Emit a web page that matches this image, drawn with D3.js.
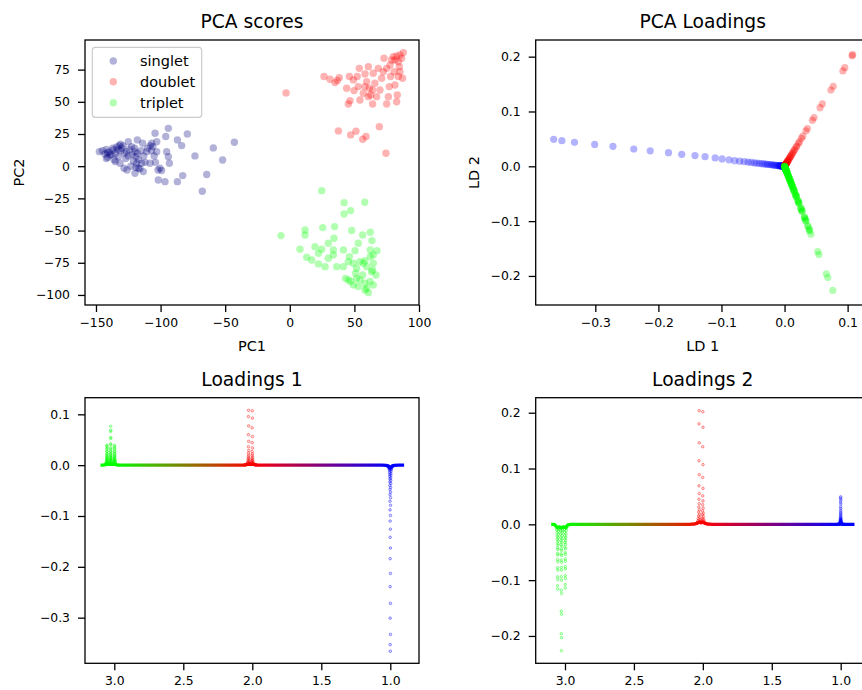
<!DOCTYPE html>
<html><head><meta charset="utf-8">
<script src="https://cdn.jsdelivr.net/npm/d3@7"></script>
<style>
body{margin:0;background:#fff;}
text{font-family:"DejaVu Sans",sans-serif;fill:#000;}
</style></head>
<body>
<svg id="chart" width="862" height="690"></svg>
<script>
// ---------------- DATA ----------------
const classNames = ["singlet", "doublet", "triplet"];

// PCA scores [PC1, PC2]
const scoreSinglet = [
[-147.4,11.3],[-143,9.5],[-141,10.5],[-142,6],[-139,8.7],[-136.6,12.6],[-134,15],[-131,17],[-129,15.7],[-132.7,7.4],
[-131.4,2.3],[-128.3,-1.6],[-135,3.6],[-125,19],[-126.3,11.3],[-122.4,15.2],[-119.8,11.3],[-118,20.4],[-119,7.4],[-118.5,2.3],
[-119.8,-5.5],[-117.2,-1.6],[-114.7,2.3],[-113.9,17.8],[-113.4,-4.2],[-110.8,11.3],[-108.2,2.3],[-106.9,17.8],[-106,15.2],[-104.3,25.6],
[-103,11.3],[-100.5,-1.6],[-99.2,-3.4],[-101.8,-10.7],[-96,23],[-94,29.4],[-95.3,11.3],[-94,7.4],[-93.2,2.3],[-96.6,-12],
[-87,20.4],[-83.7,16],[-79.3,25],[-82.9,-7.3],[-87,-12],[-73.4,8],[-67.7,-19.5],[-64.3,-6.5],[-59.2,14.2],[-52,4.8],[-42.9,18.6],
[-145,12],[-142,13],[-140,11],[-138,9],[-137,14],[-135,10],[-133,13],[-132,16],[-131,12],[-130,14],[-128,10],[-127,6],[-125,8],
[-124,13],[-122,9],[-121,4],[-120,14],[-118,10],[-117,5],[-116,-2],[-115,12],[-113,8],[-112,3],[-110,14],[-108,16],[-107,12],
[-105,8],[-104,3],[-103,19],[-102,-3],[-126,-3],[-123,0],[-119,-1],[-141,7],[-136,5]
];
const scoreDoublet = [
[-2.9,56.9],[26.5,69.6],[31.1,67.5],[35,64.9],[36.8,66.5],[38.3,68.8],[37.6,27.4],[45.3,48.3],[46.6,50.9],[47.1,24.3],
[46.1,69.6],[49.2,67],[51.2,27.1],[49.7,58.7],[53,61.8],[53.8,76],[54.3,51.4],[56.9,56.6],[59,23],[56.4,20.9],
[58.2,71.6],[60.8,77.3],[59.5,65.7],[61.5,60.5],[62.6,55.3],[64.1,48.3],[64.6,72.2],[65.9,64.4],[68.5,76],[69.3,30.7],
[69.8,59.2],[71.1,68.3],[72.9,83.8],[74.4,10],[75,48.3],[76.3,54],[77,61.8],[77.6,78.6],[78,69.6],[80.1,85.1],
[81.4,63.1],[82.7,50.1],[83.2,55.3],[84,69.6],[84.8,77.3],[85.3,86.4],[86.6,83.8],[87.9,88.2],[87.3,68.3],[84,81.2],
[81.4,82.5],[82.7,85.6],[78.8,82.5],[60.8,54],[64.1,59.2],[44,60.5],[52.2,69.6],[58.2,61.8],[67.2,54],[72.4,73.4],
[75,76],[80.7,73.4],[85.3,73.4]
];
const scoreTriplet = [
[-6.8,-53.9],[24.7,-19],[42,-28.3],[47.1,-34.5],[42,-37.1],[58,-28],[11.8,-49.5],[11.8,-53.4],[25.5,-47.7],[34.7,-46.9],
[47.9,-50],[62.3,-51.3],[56.4,-53.4],[53,-59.9],[63.6,-57.8],[7.9,-64.5],[19.5,-62.5],[29.8,-59.9],[34.2,-56],[24.7,-64.5],
[33.7,-65],[41.5,-65],[50.5,-65.6],[62.3,-65],[67.5,-65.6],[13.1,-70.7],[17,-72.8],[22.2,-75.9],[27.3,-78],[29.8,-71.5],
[36.3,-78],[41.5,-78],[46.1,-70.2],[49.2,-75.4],[54.3,-74.1],[58.2,-73.4],[62.3,-70.2],[64.6,-68.9],[45.3,-74.1],[51.7,-79.3],
[59.5,-78],[63.3,-81.9],[66.7,-84.5],[43.1,-87.1],[47.1,-89.6],[50.9,-83.2],[54.3,-88.3],[58.2,-90.9],[62,-89.6],[59.5,-94.8],
[58.2,-96.1],[60.8,-98.2],[53,-93.5],[49.2,-92.2],[45.3,-88.3],[64.6,-75.4],[56.9,-75.4],[51.7,-87.1],[56.4,-84.5],[64.6,-92.2],
[64.1,-80.6],[33.7,-68.9],[22.2,-67.6]
];

// Spectral loadings samples: [ppm, loading1, loading2]
const singletPeak = [
[1.000,-0.366,0.0492],[1.001,-0.353,0.0468],[0.999,-0.333,0.0438],[1.001,-0.301,0.0400],[0.999,-0.272,0.0365],
[1.001,-0.239,0.0316],[0.999,-0.213,0.0282],[1.001,-0.184,0.0249],[0.999,-0.163,0.0219],[1.001,-0.142,0.0195],
[0.999,-0.126,0.0176],[1.001,-0.110,0.0152],[0.999,-0.099,0.0134],[1.002,-0.088,0.0116],[0.998,-0.079,0.0103],
[1.002,-0.071,0.0094],[0.998,-0.064,0.0085],[1.002,-0.058,0.0077],[0.998,-0.053,0.0070],[1.002,-0.048,0.0064],
[0.998,-0.044,0.0058],[1.003,-0.040,0.0053],[0.997,-0.036,0.0048],[1.003,-0.033,0.0044],[0.997,-0.030,0.0040],
[1.003,-0.027,0.0036],[0.997,-0.025,0.0033],[1.004,-0.022,0.0029],[0.996,-0.020,0.0027],[1.004,-0.018,0.0024],
[0.996,-0.016,0.0021],[1.005,-0.014,0.0019],[0.995,-0.012,0.0016],[1.006,-0.010,0.0013],[0.994,-0.009,0.0012],
[1.007,-0.008,0.0011],[0.993,-0.007,0.0009],[1.009,-0.006,0.0008],[0.991,-0.005,0.0007],[1.011,-0.004,0.0005],
[0.989,-0.0035,0.0005],[1.014,-0.003,0.0004],[0.986,-0.0025,0.0003],[1.018,-0.002,0.0003],[0.982,-0.0016,0.0002],
[1.024,-0.0012,0.0002],[0.976,-0.0010,0.0001]
];
const doubletPeak = [
[2.027,0.1080,0.2036],[2.000,0.1070,0.2018],[2.028,0.0955,0.1800],[1.999,0.0925,0.1740],[2.026,0.0772,0.1460],
[2.001,0.0735,0.1390],[2.028,0.0600,0.1140],[1.999,0.0563,0.1070],[2.026,0.0468,0.0890],[2.001,0.0442,0.0840],
[2.028,0.0363,0.0690],[1.999,0.0339,0.0645],[2.026,0.0290,0.0550],[2.001,0.0268,0.0510],[2.028,0.0237,0.0450],
[1.999,0.0221,0.0420],[2.026,0.0195,0.0370],[2.001,0.0184,0.0350],[2.029,0.0163,0.0310],[1.998,0.0153,0.0290],
[2.025,0.0137,0.0260],[2.002,0.0126,0.0240],[2.030,0.0116,0.0220],[1.997,0.0105,0.0200],[2.024,0.0095,0.0180],
[2.003,0.0090,0.0170],[2.031,0.0079,0.0150],[1.996,0.0074,0.0140],[2.023,0.0063,0.0120],[2.004,0.0058,0.0110],
[2.033,0.0053,0.0100],[1.994,0.0047,0.0090],[2.021,0.0042,0.0080],[2.006,0.0040,0.0075],[2.035,0.0034,0.0065],
[1.992,0.0032,0.0060],[2.019,0.0026,0.0050],[2.008,0.0024,0.0045],[2.038,0.0021,0.0040],[1.989,0.0018,0.0035],
[2.016,0.0016,0.0030],[2.011,0.0014,0.0027],[2.042,0.0012,0.0023],[1.985,0.0011,0.0020],[2.048,0.0009,0.0017],
[1.979,0.0008,0.0015],[2.056,0.0006,0.0012],[1.971,0.0005,0.0010]
];
const tripletPeak = [
[3.026,0.0765,-0.2265],[3.025,0.0686,-0.2030],[3.027,0.0662,-0.1960],[3.025,0.0544,-0.1610],[3.027,0.0526,-0.1555],
[3.025,0.0419,-0.1240],[3.027,0.0399,-0.1180],[3.025,0.0338,-0.1000],[3.027,0.0318,-0.0940],[3.025,0.0277,-0.0820],
[3.027,0.0260,-0.0770],[3.024,0.0230,-0.0680],[3.028,0.0216,-0.0640],[3.024,0.0189,-0.0560],[3.028,0.0179,-0.0530],
[3.024,0.0159,-0.0470],[3.028,0.0149,-0.0440],[3.023,0.0132,-0.0390],[3.029,0.0122,-0.0360],[3.023,0.0108,-0.0320],
[3.029,0.0098,-0.0290],[3.022,0.0088,-0.0260],[3.030,0.0078,-0.0230],[3.021,0.0068,-0.0200],[3.031,0.0057,-0.0170],
[3.020,0.0047,-0.0140],[3.032,0.0041,-0.0120],[3.019,0.0034,-0.0100],[3.033,0.0027,-0.0080],
[3.053,0.0394,-0.1160],[3.054,0.0374,-0.1100],[3.052,0.0337,-0.0990],[3.054,0.0320,-0.0940],[3.052,0.0279,-0.0820],
[3.054,0.0265,-0.0780],[3.052,0.0228,-0.0670],[3.054,0.0214,-0.0630],[3.052,0.0187,-0.0550],[3.054,0.0177,-0.0520],
[3.051,0.0153,-0.0450],[3.055,0.0143,-0.0420],[3.051,0.0126,-0.0370],[3.055,0.0116,-0.0340],[3.050,0.0102,-0.0300],
[3.056,0.0092,-0.0270],[3.050,0.0082,-0.0240],[3.057,0.0071,-0.0210],[3.049,0.0061,-0.0180],[3.058,0.0051,-0.0150],
[3.048,0.0041,-0.0120],[3.060,0.0034,-0.0100],[3.047,0.0027,-0.0080],[3.063,0.0020,-0.0060],
[2.998,0.0388,-0.1140],[2.999,0.0367,-0.1080],[2.997,0.0330,-0.0970],[2.999,0.0313,-0.0920],[2.997,0.0272,-0.0800],
[2.999,0.0258,-0.0760],[2.997,0.0224,-0.0660],[2.999,0.0211,-0.0620],[2.997,0.0184,-0.0540],[2.999,0.0173,-0.0510],
[2.996,0.0150,-0.0440],[3.000,0.0139,-0.0410],[2.996,0.0122,-0.0360],[3.000,0.0112,-0.0330],[2.995,0.0099,-0.0290],
[3.001,0.0088,-0.0260],[2.994,0.0078,-0.0230],[3.002,0.0068,-0.0200],[2.993,0.0058,-0.0170],[3.003,0.0048,-0.0140],
[2.991,0.0037,-0.0110],[3.004,0.0031,-0.0090],[2.989,0.0024,-0.0070],[2.986,0.0017,-0.0050]
];
const baseline = [
[3.100,0.0000,0.0000],[3.080,0.0000,0.0000],[3.072,0.0004,-0.0012],[3.066,0.0010,-0.0030],[3.060,0.0016,-0.0048],
[3.053,0.0020,-0.0060],[3.046,0.0016,-0.0050],[3.040,0.0015,-0.0046],[3.033,0.0017,-0.0052],[3.026,0.0022,-0.0066],
[3.019,0.0017,-0.0052],[3.012,0.0015,-0.0046],[3.005,0.0017,-0.0050],[2.998,0.0020,-0.0060],[2.991,0.0014,-0.0042],
[2.984,0.0007,-0.0020],[2.976,0.0003,-0.0008],[2.960,0.0001,-0.0002],[2.900,0.0000,0.0000],[2.500,0.0000,0.0000],
[2.100,0.0000,0.0000],[2.060,0.0003,0.0006],[2.045,0.0008,0.0015],[2.035,0.0014,0.0027],[2.027,0.0020,0.0038],
[2.014,0.0016,0.0030],[2.000,0.0020,0.0038],[1.992,0.0014,0.0027],[1.982,0.0008,0.0015],[1.967,0.0003,0.0006],
[1.930,0.0000,0.0000],[1.500,0.0000,0.0000],[1.060,0.0000,0.0000],[1.030,-0.0004,0.0001],[1.015,-0.0012,0.0002],
[1.007,-0.0030,0.0004],[1.000,-0.0060,0.0008],[0.993,-0.0030,0.0004],[0.985,-0.0012,0.0002],[0.970,-0.0004,0.0001],
[0.940,0.0000,0.0000],[0.900,0.0000,0.0000]
];

// tick labels
const scoreXTicks = [-150, -100, -50, 0, 50, 100];
const scoreYTicks = [75, 50, 25, 0, -25, -50, -75, -100];
const ldXTicks = [-0.3, -0.2, -0.1, 0.0, 0.1];
const ldYTicks = [-0.2, -0.1, 0.0, 0.1, 0.2];
const ppmTicks = [3.0, 2.5, 2.0, 1.5, 1.0];
const load1Ticks = [0.1, 0.0, -0.1, -0.2, -0.3];
const load2Ticks = [0.2, 0.1, 0.0, -0.1, -0.2];

// ---------------- DRAWING ----------------
const svg = d3.select("#chart");
const classColors = ["#000080", "#ff0000", "#00ff00"];
const ppmColor = d3.scaleLinear().domain([3, 2, 1]).range(["#00ff00", "#ff0000", "#0000ff"]).clamp(true);
const TICK = 12.4, LABEL = 14.5, TITLE = 18.7;

function frame(x, y, xt, yt, fmt, title, xl, yl, labelX) {
  const [x0, x1] = x.range(), [y1, y0] = y.range();
  const g = svg.append("g");
  const ax = g.append("g").attr("transform", `translate(0,${y1})`)
    .call(d3.axisBottom(x).tickValues(xt).tickFormat(fmt).tickSize(7).tickPadding(6).tickSizeOuter(0));
  const ay = g.append("g").attr("transform", `translate(${x0},0)`)
    .call(d3.axisLeft(y).tickValues(yt).tickFormat(fmt).tickSize(7).tickPadding(8).tickSizeOuter(0));
  [ax, ay].forEach(a => {
    a.select(".domain").remove();
    a.selectAll("line").attr("stroke", "#000").attr("stroke-width", 1.3);
    a.selectAll("text").attr("font-size", TICK).attr("font-family", "DejaVu Sans").attr("fill", "#000");
  });
  g.append("rect").attr("x", x0).attr("y", y0).attr("width", x1 - x0).attr("height", y1 - y0)
    .attr("fill", "none").attr("stroke", "#000").attr("stroke-width", 1.3);
  g.append("text").attr("x", (x0 + x1) / 2).attr("y", y0 - 12).attr("text-anchor", "middle")
    .attr("font-size", TITLE).text(title);
  if (xl) g.append("text").attr("x", (x0 + x1) / 2).attr("y", y1 + 45.6).attr("text-anchor", "middle")
    .attr("font-size", LABEL).text(xl);
  if (yl) g.append("text").attr("transform", `translate(${labelX},${(y0 + y1) / 2}) rotate(-90)`)
    .attr("text-anchor", "middle").attr("font-size", LABEL).text(yl);
  return g;
}

// ---- Panel 1: PCA scores ----
const sx = d3.scaleLinear().domain([-158.5, 100]).range([85, 419]);
const sy = d3.scaleLinear().domain([-107.8, 98]).range([305, 40]);
const scoreSets = [scoreSinglet, scoreDoublet, scoreTriplet];
const p1 = svg.append("g");
scoreSets.forEach((set, i) => {
  p1.append("g").selectAll("circle").data(set).join("circle")
    .attr("cx", d => sx(d[0])).attr("cy", d => sy(d[1])).attr("r", 3.7)
    .attr("fill", classColors[i]).attr("fill-opacity", 0.3);
});
const fmtInt = d3.format("d");
frame(sx, sy, scoreXTicks, scoreYTicks, fmtInt, "PCA scores", "PC1", "PC2", 23.5);
// legend
const lg = svg.append("g");
lg.append("rect").attr("x", 92.3).attr("y", 47.3).attr("width", 109.4).attr("height", 70).attr("rx", 3)
  .attr("fill", "#fff").attr("fill-opacity", 0.8).attr("stroke", "#cccccc").attr("stroke-width", 1.2);
const rowY = [61, 81.8, 102.7];
classNames.forEach((n, i) => {
  lg.append("circle").attr("cx", 113.3).attr("cy", rowY[i]).attr("r", 3.7)
    .attr("fill", classColors[i]).attr("fill-opacity", 0.3);
  lg.append("text").attr("x", 140).attr("y", rowY[i] + 5).attr("font-size", LABEL).text(n);
});

// all spectral samples, ordered by ppm ascending (green drawn last)
const samples = baseline.concat(singletPeak, doubletPeak, tripletPeak).sort((a, b) => a[0] - b[0]);
const peaks = singletPeak.concat(doubletPeak, tripletPeak).sort((a, b) => a[0] - b[0]);
const fmt1 = d3.format(".1f");

// ---- Panel 2: PCA loadings (loading1 vs loading2) ----
const lx = d3.scaleLinear().domain([-0.3945, 0.135]).range([535.7, 869.7]);
const ly = d3.scaleLinear().domain([-0.253, 0.2304]).range([305, 40]);
svg.append("defs").append("clipPath").attr("id", "clipLD").append("rect")
  .attr("x", 535.7).attr("y", 40).attr("width", 334).attr("height", 265);
svg.append("g").attr("clip-path", "url(#clipLD)").selectAll("circle").data(samples).join("circle")
  .attr("cx", d => lx(d[1])).attr("cy", d => ly(d[2])).attr("r", 3.6)
  .attr("fill", d => ppmColor(d[0])).attr("fill-opacity", 0.3);
frame(lx, ly, ldXTicks, ldYTicks, fmt1, "PCA Loadings", "LD 1", "LD 2", 479.3);

// ---- Panels 3 & 4: loadings spectra ----
function spectrum(x, y, idx, ticksY, title, gid) {
  const [x0, x1] = x.range();
  const grad = svg.select("defs").append("linearGradient").attr("id", gid)
    .attr("gradientUnits", "userSpaceOnUse").attr("x1", x(3)).attr("x2", x(1)).attr("y1", 0).attr("y2", 0);
  grad.append("stop").attr("offset", 0).attr("stop-color", "#00ff00");
  grad.append("stop").attr("offset", 0.5).attr("stop-color", "#ff0000");
  grad.append("stop").attr("offset", 1).attr("stop-color", "#0000ff");
  const line = d3.line().x(d => x(d[0])).y(d => y(d[idx]));
  const g = svg.append("g");
  g.append("path").datum(baseline).attr("d", line).attr("fill", "none")
    .attr("stroke", `url(#${gid})`).attr("stroke-width", 3.3).attr("stroke-linejoin", "round");
  g.append("g").selectAll("circle").data(peaks).join("circle")
    .attr("cx", d => x(d[0])).attr("cy", d => y(d[idx])).attr("r", 1.3)
    .attr("fill", d => ppmColor(d[0])).attr("fill-opacity", 0.15)
    .attr("stroke", d => ppmColor(d[0])).attr("stroke-opacity", 0.55).attr("stroke-width", 0.7);
  frame(x, y, ppmTicks, ticksY, fmt1, title, null, null, 0);
}
const ax3 = d3.scaleLinear().domain([3.2123, 0.792]).range([85, 419]);
const ay3 = d3.scaleLinear().domain([-0.3898, 0.1327]).range([663.3, 397.7]);
spectrum(ax3, ay3, 1, load1Ticks, "Loadings 1", "grad1");
const ax4 = d3.scaleLinear().domain([3.2125, 0.7896]).range([535.7, 869.7]);
const ay4 = d3.scaleLinear().domain([-0.249, 0.2269]).range([663.3, 397.7]);
spectrum(ax4, ay4, 2, load2Ticks, "Loadings 2", "grad2");
</script>
</body></html>
